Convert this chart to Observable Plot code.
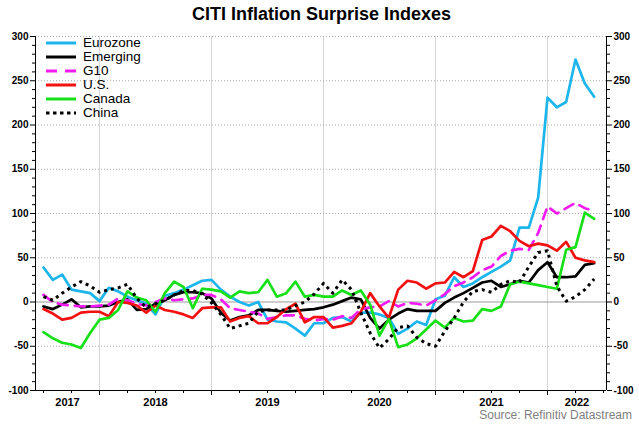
<!DOCTYPE html>
<html><head><meta charset="utf-8">
<script src="https://cdn.jsdelivr.net/npm/d3@7"></script>
<script src="https://cdn.jsdelivr.net/npm/@observablehq/plot@0.6"></script>
<style>
body{margin:0;background:#fff;font-family:"Liberation Sans",Arial,sans-serif;}
#wrap{position:relative;width:639px;height:426px;overflow:hidden;}
#title{height:26px;line-height:28px;text-align:center;font-weight:bold;font-size:18px;padding-left:4px;color:#000;}
#chart svg{display:block;}
#legend{position:absolute;left:45px;top:36px;font-size:13.5px;line-height:14px;color:#000;}
.row{height:14px;display:flex;align-items:center;}
.row span{display:block;height:14px;line-height:14px;}
.row svg{margin-right:6px;display:block;}
#source{position:absolute;right:7px;top:408px;font-size:12px;line-height:14px;color:#808080;}
</style></head>
<body><div id="wrap"><div id="title">CITI Inflation Surprise Indexes</div><div id="chart"></div><div id="legend"></div><div id="source">Source: Refinitiv Datastream</div></div>
<script>
// Monthly observations, Jul 2017 .. Jun 2022
const firstMonth = [2017, 7];
const lastMonth = [2022, 6];
const seriesNames = ["Eurozone", "Emerging", "G10", "U.S.", "Canada", "China"];
const eurozone = [39,25,31,14,12,10,1,16,12,6, 2,-2,-14,7,10,14,19,24,25,14, 6,0,-4,0,-20,-22,-23,-30,-38,-24, -24,-18,-17,-22,-12,-12,-14,-18,-36,-30, -22,-26,3,7,28,17,21,28,34,40, 47,84,84,118,231,220,226,274,247,232];
const emerging = [-5,-8,-3,3,-6,-5,-5,-4,0,3, -9,-8,-2,2,8,11,11,10,4,-12, -21,-17,-15,-9,-9,-10,-11,-10,-9,-8, -6,-3,1,5,3,-18,-30,-20,-13,-8, -10,-10,-10,-1,5,10,16,22,24,17, 20,24,22,36,45,28,28,29,42,44];
const g10 = [8,0,-3,-4,-5,-5,-4,-3,4,2, -2,-4,0,4,2,3,4,8,8,3, -7,-9,-11,-13,-19,-17,-15,-15,-19,-21, -19,-20,-16,-18,-8,-6,-5,1,-5,-1, -2,-4,2,9,18,22,28,36,40,52, 58,60,59,78,108,100,106,112,106,103];
const us = [-8,-13,-20,-18,-12,-11,-11,-16,0,-1, -4,-12,-4,-9,-11,-14,-18,-7,-6,-6, -22,-18,-16,-24,-24,-17,-8,-2,-23,-17, -17,-29,-27,-24,-11,10,-5,-18,14,24, 22,15,21,22,34,28,35,70,74,86, 80,69,63,66,64,58,68,50,47,45];
const canada = [-34,-41,-46,-48,-52,-35,-20,-18,-9,12, 5,2,-11,10,23,17,-7,15,14,12, 5,12,10,11,25,6,10,23,6,8, 6,6,13,8,13,-3,-38,-19,-51,-48, -41,-31,-21,-29,-18,-22,-21,-8,-10,-5, 20,23,21,19,17,15,59,62,101,94];
const china = [6,2,10,17,23,18,11,14,16,20, 4,-6,-2,2,8,13,13,9,-1,-14, -30,-27,-24,-11,-9,-9,-9,-4,0,9, 21,10,25,14,-12,-35,-52,-42,-29,-27, -40,-47,-50,-33,-18,0,12,14,11,20, 24,22,40,56,58,18,1,6,14,26];
const yearLabels = ["2017","2018","2019","2020","2021","2022"];
const yTicks = [-100,-50,0,50,100,150,200,250,300];

const seriesValues = [eurozone, emerging, g10, us, canada, china];
const seriesStyle = [
  {stroke:"#1CB5EC", dash:null},
  {stroke:"#000000", dash:null},
  {stroke:"#F21CF2", dash:"10,7"},
  {stroke:"#F21010", dash:null},
  {stroke:"#18E018", dash:null},
  {stroke:"#000000", dash:"3,4"}
];

const months = d3.utcMonths(new Date(Date.UTC(firstMonth[0], firstMonth[1]-1, 1)), new Date(Date.UTC(lastMonth[0], lastMonth[1], 1)))
  .map(d => d.getUTCFullYear() + d.getUTCMonth()/12);

const xDomain = [2017.4286, 2022.5268];
const yearBounds = [2018, 2019, 2020, 2021, 2022];
const quarters = d3.range(2017.5, 2022.6, 0.25).filter(q => q > xDomain[0] && q < xDomain[1] && !yearBounds.includes(q));
const minorY = d3.range(-100, 301, 10).filter(v => v % 50 !== 0);
const yearMid = yearLabels.map((y, i) => {
  const a = Math.max(+y, xDomain[0]), b = Math.min(+y + 1, xDomain[1]);
  return {label: y, x: (a + b) / 2};
});

const lineMarks = seriesValues.map((vals, k) => Plot.line(vals, {
  x: (d, i) => months[i], y: d => d,
  stroke: seriesStyle[k].stroke, strokeWidth: k === 5 ? 3 : 2.7,
  strokeDasharray: seriesStyle[k].dash, strokeLinejoin: "round",
  strokeLinecap: k === 5 ? "butt" : "round"
}));

const chart = Plot.plot({
  width: 639, height: 382,
  marginLeft: 35, marginRight: 33, marginTop: 10, marginBottom: 18,
  style: {fontFamily: "Liberation Sans, Arial, sans-serif", fontSize: "10px", fontWeight: "bold", color: "#000", background: "transparent", overflow: "visible"},
  x: {type: "linear", domain: xDomain, label: null},
  y: {domain: [-100, 300], label: null},
  marks: [
    Plot.ruleX(yearBounds, {stroke: "#d6d6d6", strokeWidth: 1}),
    Plot.ruleY(yTicks.filter(v => v !== 0 && v !== -100), {stroke: "#aaa", strokeDasharray: "1,2", strokeWidth: 1}),
    Plot.ruleY([0], {stroke: "#9a9a9a", strokeWidth: 1.2}),
    ...lineMarks,
    Plot.ruleX([xDomain[0]], {stroke: "#000", strokeWidth: 1}),
    Plot.ruleX([xDomain[1]], {stroke: "#000", strokeWidth: 1}),
    Plot.ruleY([-100], {stroke: "#000", strokeWidth: 1}),
    Plot.axisY({anchor: "left", ticks: yTicks, tickSize: 5, tickPadding: 2, tickFormat: d => String(d), label: null}),
    Plot.axisY({anchor: "left", ticks: minorY, tickSize: 3, tickFormat: () => "", label: null}),
    Plot.axisY({anchor: "right", ticks: yTicks, tickSize: 5, tickPadding: 2, tickFormat: d => String(d), label: null}),
    Plot.axisY({anchor: "right", ticks: minorY, tickSize: 3, tickFormat: () => "", label: null}),
    Plot.axisX({anchor: "bottom", ticks: yearBounds, tickSize: 5, tickFormat: () => "", label: null}),
    Plot.axisX({anchor: "bottom", ticks: quarters, tickSize: 3, tickFormat: () => "", label: null}),
    Plot.text(yearMid, {x: "x", y: () => -100, text: "label", dy: 12, fontSize: 11, fontWeight: "bold", fill: "#000"})
  ]
});
document.getElementById("chart").appendChild(chart);

const legend = document.getElementById("legend");
seriesNames.forEach((name, k) => {
  const row = document.createElement("div");
  row.className = "row";
  const s = seriesStyle[k];
  row.innerHTML = `<svg width="32" height="14"><line x1="1" x2="31" y1="7" y2="7" stroke="${s.stroke}" stroke-width="3" ${s.dash ? `stroke-dasharray="${k===2 ? '11,8' : '3.5,3.5'}"` : ""}/></svg><span>${name}</span>`;
  legend.appendChild(row);
});
</script>
</body></html>
